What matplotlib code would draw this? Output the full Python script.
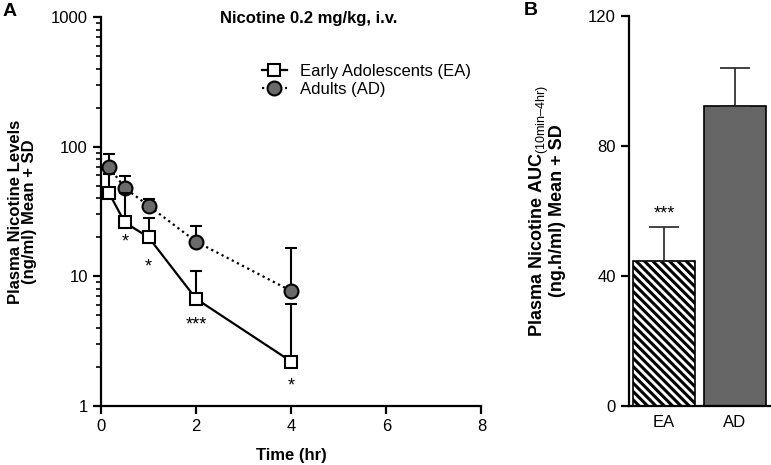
import matplotlib
matplotlib.use("Agg")
import matplotlib.pyplot as plt
import numpy as np

plt.rcParams["font.family"] = ["Liberation Sans", "DejaVu Sans"]
plt.rcParams["mathtext.fontset"] = "custom"
plt.rcParams["mathtext.rm"] = "Liberation Sans"
plt.rcParams["hatch.linewidth"] = 2.2

# panel A: plasma nicotine over time (mean, upper SD)
time_hr = [1 / 6, 0.5, 1, 2, 4]
ea_mean = [44, 26, 20, 6.7, 2.2]
ea_sd = [18, 18, 8.3, 4.3, 3.9]
ad_mean = [70, 48, 35, 18.5, 7.7]
ad_sd = [18, 11, 4.4, 5.9, 8.7]
sig_times = [0.5, 1, 2, 4]
sig_marks = ["*", "*", "***", "*"]

# panel B: AUC
groups = ["EA", "AD"]
auc_mean = [44.7, 92.2]
auc_sd = [10.3, 11.9]

fig = plt.figure(figsize=(7.71, 4.65), dpi=100)
ax = fig.add_axes([0.131, 0.127, 0.4935, 0.8365])
bx = fig.add_axes([0.8158, 0.126, 0.1829, 0.840])

for a in (ax, bx):
    for side in ("top", "right"):
        a.spines[side].set_visible(False)
    for side in ("left", "bottom"):
        a.spines[side].set_linewidth(1.6)
    a.tick_params(which="major", width=1.6, length=6, labelsize=12, direction="out")
    a.tick_params(which="minor", width=1.2, length=3.5, direction="out")

# --- panel A ---
ax.set_yscale("log")
ax.errorbar(time_hr, ad_mean, yerr=[np.zeros(len(ad_sd)), ad_sd], fmt="o", color="black",
            ecolor="black", elinewidth=1.5, capsize=4, capthick=1.5, ms=10,
            mfc="#6a6a6a", mec="black", mew=1.5, zorder=2)
ax.plot(time_hr, ad_mean, ls=(0, (1, 1.6)), color="black", lw=1.6, zorder=1)
ax.errorbar(time_hr, ea_mean, yerr=[np.zeros(len(ea_sd)), ea_sd], fmt="none",
            ecolor="black", elinewidth=1.5, capsize=4, capthick=1.5, zorder=3)
ax.plot(time_hr, ea_mean, "-s", color="black", lw=1.6, ms=9, mfc="white",
        mec="black", mew=1.5, zorder=4)

ea_lookup = dict(zip(time_hr, ea_mean))
offsets = [-20, -30, -26, -24]
for t, mark, off in zip(sig_times, sig_marks, offsets):
    ax.annotate(mark, (t, ea_lookup[t]), xytext=(0, off / 1.389), textcoords="offset points",
                ha="center", va="center", fontsize=13)

ax.set_xlim(0, 8)
ax.set_ylim(1, 1000)
ax.set_xticks([0, 2, 4, 6, 8])
ax.set_yticks([1, 10, 100, 1000])
ax.set_yticklabels(["1", "10", "100", "1000"])
ax.set_xlabel("Time (hr)", fontsize=12, fontweight="bold", labelpad=10)
ax.set_ylabel("Plasma Nicotine Levels\n(ng/ml) Mean + SD", fontsize=12, fontweight="bold",
              linespacing=0.9)
ax.yaxis.set_label_coords(-0.168, 0.5)
ax.text(0.545, 0.995, "Nicotine 0.2 mg/kg, i.v.", transform=ax.transAxes, ha="center",
        va="center", fontsize=12, fontweight="bold")

h_ea = plt.Line2D([], [], color="black", lw=1.6, marker="s", ms=9, mfc="white", mec="black", mew=1.5)
h_ad = plt.Line2D([], [], color="black", lw=1.6, ls=(0, (1, 1.6)), marker="o", ms=10,
                  mfc="#6a6a6a", mec="black", mew=1.5)
ax.legend([h_ea, h_ad], ["Early Adolescents (EA)", "Adults (AD)"], loc="upper left",
          bbox_to_anchor=(0.423, 0.88), frameon=False, fontsize=12, handlelength=1.5,
          handletextpad=0.8, labelspacing=0.22, borderpad=0, borderaxespad=0)

fig.text(0.013, 0.976, "A", fontsize=14, fontweight="bold", ha="center", va="center")

# --- panel B ---
xpos = np.arange(len(groups))
bars = bx.bar(xpos, auc_mean, width=0.88, color=["white", "#666666"], edgecolor="black", linewidth=1.2)
bars[0].set_hatch("\\\\\\\\")
bx.errorbar(xpos, auc_mean, yerr=[np.zeros(len(auc_sd)), auc_sd], fmt="none", ecolor="#222222",
            elinewidth=1.2, capsize=11, capthick=1.2)
bx.annotate("***", (xpos[0], auc_mean[0] + auc_sd[0]), xytext=(0, 13 / 1.389),
            textcoords="offset points", ha="center", va="center", fontsize=13)
bx.set_xlim(-0.5, 1.5)
bx.set_ylim(0, 120)
bx.set_yticks([0, 40, 80, 120])
bx.set_xticks(xpos)
bx.set_xticklabels(groups)
bx.tick_params(axis="x", length=0, pad=6)
bx.set_ylabel("Plasma Nicotine AUC$_{\\mathrm{(10min–4hr)}}$\n(ng.h/ml) Mean + SD",
              fontsize=13, fontweight="bold", linespacing=0.85)
bx.yaxis.set_label_coords(-0.445, 0.5)
fig.text(0.689, 0.978, "B", fontsize=14, fontweight="bold", ha="center", va="center")

fig.savefig("out.png", dpi=100)
